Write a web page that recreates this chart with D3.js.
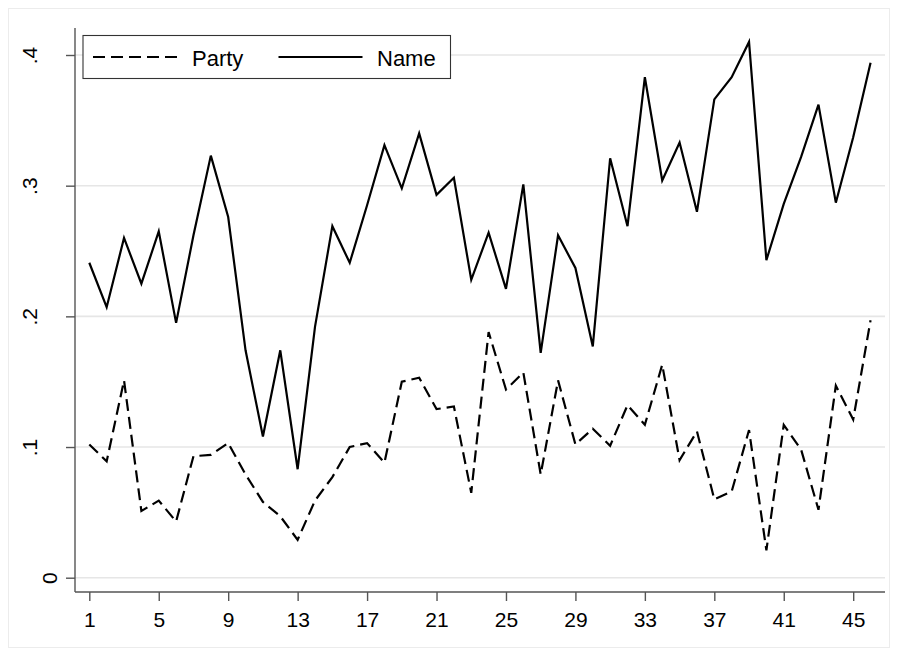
<!DOCTYPE html>
<html>
<head>
<meta charset="utf-8">
<script src="https://cdn.jsdelivr.net/npm/d3@7"></script>
<style>
  html, body { margin: 0; padding: 0; background: #fff; }
  svg { display: block; font-family: "Liberation Sans", Arial, Helvetica, sans-serif; }
</style>
</head>
<body>
<svg id="chart" width="898" height="656"></svg>
<script>
// Observation index 1..46
const periods = d3.range(1, 47);

// Share per period, two series
const partyShare = [0.102, 0.089, 0.151, 0.051, 0.059, 0.043, 0.093, 0.094, 0.103, 0.079,
                    0.058, 0.047, 0.029, 0.059, 0.077, 0.100, 0.103, 0.088, 0.150, 0.153,
                    0.129, 0.131, 0.065, 0.188, 0.144, 0.157, 0.079, 0.151, 0.102, 0.114,
                    0.101, 0.132, 0.117, 0.163, 0.090, 0.112, 0.060, 0.066, 0.113, 0.021,
                    0.117, 0.098, 0.052, 0.147, 0.121, 0.197];
const nameShare  = [0.241, 0.207, 0.260, 0.225, 0.265, 0.195, 0.262, 0.323, 0.276, 0.174,
                    0.108, 0.174, 0.083, 0.192, 0.269, 0.241, 0.285, 0.331, 0.298, 0.340,
                    0.293, 0.306, 0.228, 0.264, 0.221, 0.301, 0.172, 0.262, 0.237, 0.177,
                    0.321, 0.269, 0.383, 0.304, 0.333, 0.280, 0.366, 0.383, 0.410, 0.243,
                    0.286, 0.322, 0.362, 0.287, 0.337, 0.394];

const xTicks = [1, 5, 9, 13, 17, 21, 25, 29, 33, 37, 41, 45];
const yTicks = [0, 0.1, 0.2, 0.3, 0.4];
const yTickLabels = ["0", ".1", ".2", ".3", ".4"];

const seriesNames = ["Party", "Name"];

const svg = d3.select("#chart");

// faint outer frame of the graph region
svg.append("rect")
  .attr("x", 8.5).attr("y", 8.5).attr("width", 881).attr("height", 639)
  .attr("fill", "#fff").attr("stroke", "#ececec").attr("stroke-width", 1);

// plot region bounds
const plotLeft = 75, plotRight = 885, plotTop = 28, plotBottom = 592;

const x = d3.scaleLinear().domain([1, 45]).range([89.3, 853.2]);
const y = d3.scaleLinear().domain([0, 0.4]).range([577.7, 55]);

// horizontal grid lines
svg.append("g").selectAll("line")
  .data(yTicks).join("line")
  .attr("x1", plotLeft).attr("x2", plotRight)
  .attr("y1", d => y(d)).attr("y2", d => y(d))
  .attr("stroke", "#e6e6e6").attr("stroke-width", 1.6);

// y axis
const yAxis = svg.append("g")
  .attr("transform", `translate(${plotLeft},0)`)
  .call(d3.axisLeft(y).tickValues(yTicks)
        .tickFormat((d, i) => yTickLabels[i])
        .tickSize(9).tickPadding(0));
yAxis.select(".domain").remove();
yAxis.append("line")
  .attr("x1", 0).attr("x2", 0).attr("y1", plotTop).attr("y2", plotBottom)
  .attr("stroke", "#555").attr("stroke-width", 1.4);
yAxis.selectAll(".tick line").attr("stroke", "#555").attr("stroke-width", 1.4);
yAxis.selectAll(".tick text")
  .attr("font-size", 21).attr("fill", "#000")
  .attr("text-anchor", "middle")
  .attr("dy", 0)
  .attr("x", null)
  .attr("transform", function(d, i) {
    // rotated labels, offset by the label's own width
    const w = yTickLabels[i].length;
    const bx = w > 1 ? -38 : -18;
    return `translate(${bx},0) rotate(-90)`;
  });

// x axis
const xAxis = svg.append("g")
  .attr("transform", `translate(0,${plotBottom})`)
  .call(d3.axisBottom(x).tickValues(xTicks).tickFormat(d3.format("d"))
        .tickSize(9).tickPadding(0));
xAxis.select(".domain").remove();
xAxis.append("line")
  .attr("x1", plotLeft).attr("x2", plotRight).attr("y1", 0).attr("y2", 0)
  .attr("stroke", "#555").attr("stroke-width", 1.4);
xAxis.selectAll(".tick line").attr("stroke", "#555").attr("stroke-width", 1.4);
xAxis.selectAll(".tick text")
  .attr("font-size", 21).attr("fill", "#000")
  .attr("dy", 0).attr("y", 35);

// series lines
const line = d3.line().x((d, i) => x(periods[i])).y(d => y(d));

svg.append("path")
  .datum(partyShare)
  .attr("d", line)
  .attr("fill", "none").attr("stroke", "#000").attr("stroke-width", 2.2)
  .attr("stroke-dasharray", "12,6").attr("stroke-linejoin", "miter");

svg.append("path")
  .datum(nameShare)
  .attr("d", line)
  .attr("fill", "none").attr("stroke", "#000").attr("stroke-width", 2.2)
  .attr("stroke-linejoin", "miter");

// legend
const legend = svg.append("g");
legend.append("rect")
  .attr("x", 83).attr("y", 35.5).attr("width", 367.5).attr("height", 43)
  .attr("fill", "#fff").attr("stroke", "#333").attr("stroke-width", 1.1);

const legendY = 57;
const items = [
  { name: seriesNames[0], x0: 93, dash: "12,6", tx: 192 },
  { name: seriesNames[1], x0: 278.5, dash: null, tx: 377 }
];
items.forEach(it => {
  legend.append("line")
    .attr("x1", it.x0).attr("x2", it.x0 + 84)
    .attr("y1", legendY).attr("y2", legendY)
    .attr("stroke", "#000").attr("stroke-width", 2.2)
    .attr("stroke-dasharray", it.dash);
  legend.append("text")
    .attr("x", it.tx).attr("y", legendY + 8.5)
    .attr("font-size", 22).attr("fill", "#000")
    .text(it.name);
});
</script>
</body>
</html>
